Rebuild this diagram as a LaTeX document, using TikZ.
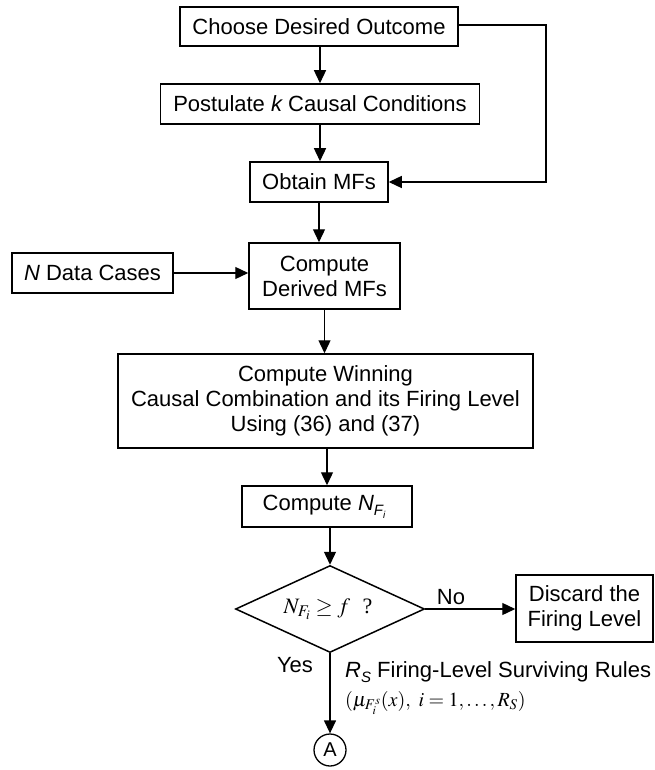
\documentclass[tikz,border=0pt]{standalone}
\usepackage{mathptmx}
\usepackage[no-math]{fontspec}
\setmainfont{Liberation Sans}
\newfontfamily\serifrm{Liberation Serif}
\usetikzlibrary{arrows.meta,shapes.geometric}

% subscripted italic symbols in the sans text
\newcommand{\NFi}{{\itshape N}\raisebox{-5pt}{\fontsize{15}{15}\selectfont\itshape F\raisebox{-3pt}{\fontsize{10}{10}\selectfont i}}}
\newcommand{\RSsub}{{\itshape R}\raisebox{-5pt}{\fontsize{15}{15}\selectfont\itshape S}}

\begin{document}
\begin{tikzpicture}[x=1pt,y=-1pt,
  box/.style={draw, line width=1.5pt, inner sep=0pt, align=center,
              font=\fontsize{22}{25}\selectfont},
  arr/.style={line width=1.3pt, -{Triangle[length=13pt,width=12pt]}},
  lbl/.style={font=\fontsize{22}{25}\selectfont, inner sep=0pt},
  decision/.style={draw, diamond, aspect=2.17, line width=1.5pt, inner sep=0pt,
                   minimum width=189pt, minimum height=87pt}]
\useasboundingbox (0,0) rectangle (654,770);

% process boxes
\node[box, minimum width=278pt, minimum height=39pt] (choose) at (319,26.5) {Choose Desired Outcome};
\node[box, minimum width=319pt, minimum height=40pt] (post) at (320,104) {Postulate {\itshape k} Causal Conditions};
\node[box, minimum width=138pt, minimum height=40pt] (obtain) at (319,182) {Obtain MFs};
\node[box, minimum width=151pt, minimum height=66pt] (derived) at (324.5,276) {Compute\\Derived MFs};
\node[box, minimum width=161pt, minimum height=40pt] (ndata) at (92.5,273) {{\itshape N} Data Cases};
\node[box, minimum width=415pt, minimum height=94pt] (winning) at (325.5,401)
  {Compute Winning\\Causal Combination and its Firing Level\\Using (36) and (37)};
\node[box, minimum width=170pt, minimum height=41pt] (nfi) at (327,506.5) {Compute \NFi\hspace{6pt}};
\node[decision] (dia) at (330,609) {};
\node[font=\fontsize{22}{25}\selectfont, inner sep=0pt] (cond) at (328,609)
  {$N_{F_i}\geq f$\ \ {\serifrm ?}};
\node[box, minimum width=137pt, minimum height=67pt] (discard) at (584.5,608.5) {Discard the\\Firing Level};
\node[draw, circle, line width=1.3pt, minimum size=32pt, inner sep=0pt,
      font=\fontsize{20}{20}\selectfont] (A) at (330,750) {A};

% connectors
\coordinate (bend) at (546,25);
\draw[arr] (post.north |- choose.south) -- (post.north);
\draw[arr] (post.south) -- (obtain.north -| post.south);
\draw[arr] (choose.east |- bend) -- (bend) |- (obtain.east);
\draw[arr] (obtain.south) -- (obtain.south |- derived.north);
\draw[arr] (ndata.east) -- (ndata.east -| derived.west);
\draw[arr] (derived.south) -- (derived.south |- winning.north);
\draw[arr] (nfi.north |- winning.south) -- (nfi.north);
\draw[arr] (dia.north |- nfi.south) -- (dia.north);
\draw[arr] (dia.east) -- (dia.east -| discard.west);
\draw[arr] (dia.south) -- (A.north);

% labels
\node[lbl, anchor=base] (no) at (451,604) {No};
\node[lbl, anchor=base] (yes) at (295,672) {Yes};
\node[lbl, anchor=base west] (rs) at (345,677) {\RSsub\ Firing-Level Surviving Rules};
\node[lbl, anchor=base west, font=\fontsize{20}{22}\selectfont] (mu) at (345,706)
  {$(\mu_{F_i^s}(x),\ i=1,\ldots,R_S)$};
\end{tikzpicture}
\end{document}
